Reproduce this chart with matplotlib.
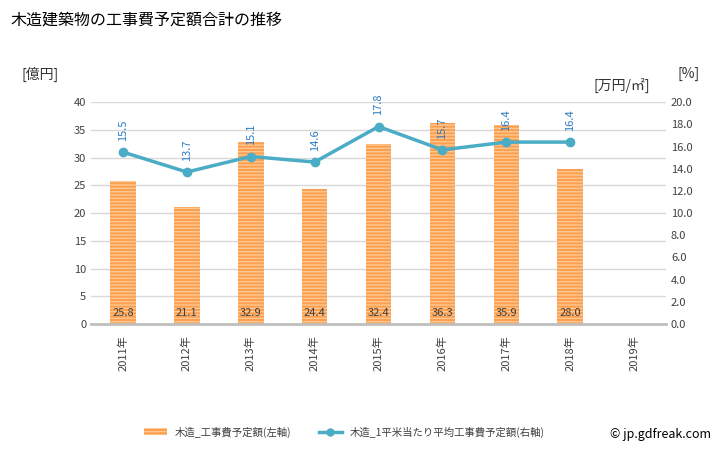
import matplotlib.pyplot as plt
import numpy as np

plt.rcParams['font.family'] = ['Noto Sans CJK JP', 'DejaVu Sans']

years = ["2011年", "2012年", "2013年", "2014年", "2015年", "2016年", "2017年", "2018年", "2019年"]
cost = [25.8, 21.1, 32.9, 24.4, 32.4, 36.3, 35.9, 28.0]
per_m2 = [15.5, 13.7, 15.1, 14.6, 17.8, 15.7, 16.4, 16.4]

fig = plt.figure(figsize=(7.28, 4.5), dpi=100)
ax = fig.add_axes([0.125, 0.28, 0.79, 0.493])
ax2 = ax.twinx()

x = np.arange(len(years))
xb = x[:len(cost)]
ax.bar(xb, cost, width=0.4, color="#fb9f50", edgecolor="#fdc890",
       hatch="-----", linewidth=0, zorder=2)
for xi, v in zip(xb, cost):
    ax.text(xi, 1.0, f"{v:.1f}", ha="center", va="bottom", fontsize=8,
            color="#404040", zorder=3)

ax.set_xlim(-0.5, len(years) - 0.5)
ax.set_ylim(0, 40)
ax.set_yticks(np.arange(0, 41, 5))
ax.set_xticks(x)
ax.set_xticklabels(years, rotation=90, fontsize=8, color="#404040")
ax.tick_params(axis="y", labelsize=8, colors="#404040", length=0)
ax.tick_params(axis="x", length=0, pad=8)
ax.grid(axis="y", color="#d9d9d9", linewidth=1, zorder=0)
ax.set_axisbelow(True)
for s in ["top", "right", "left"]:
    ax.spines[s].set_visible(False)
ax.spines["bottom"].set_color("#bfbfbf")
ax.spines["bottom"].set_linewidth(2)

xl = x[:len(per_m2)]
ax2.plot(xl, per_m2, color="#4bacc6", linewidth=2.5, marker="o",
         markersize=6, zorder=4)
for xi, v in zip(xl, per_m2):
    ax2.text(xi, v + 1.0, f"{v:.1f}", ha="center", va="bottom", rotation=90,
             fontsize=8, color="#2e7bc0")
ax2.set_ylim(0, 20)
ax2.set_yticks(np.arange(0, 21, 2))
ax2.set_yticklabels([f"{t:.1f}" for t in np.arange(0, 21, 2)])
ax2.tick_params(axis="y", labelsize=8, colors="#404040", length=0)
for s in ["top", "right", "left", "bottom"]:
    ax2.spines[s].set_visible(False)

fig.text(0.015, 0.955, "木造建築物の工事費予定額合計の推移", fontsize=11.5, va="center")
fig.text(0.03, 0.835, "[億円]", fontsize=10, va="center", color="#333333")
fig.text(0.815, 0.81, "[万円/㎡]", fontsize=10, va="center", color="#333333")
fig.text(0.93, 0.835, "[%]", fontsize=10, va="center", color="#333333")

h1 = plt.Rectangle((0, 0), 1, 1, facecolor="#fb9f50", edgecolor="#fdc890",
                   hatch="-----", linewidth=0)
h2, = ax2.plot([], [], color="#4bacc6", linewidth=2.5, marker="o", markersize=5)
fig.legend([h1, h2], ["木造_工事費予定額(左軸)", "木造_1平米当たり平均工事費予定額(右軸)"],
           loc="center", bbox_to_anchor=(0.473, 0.04), ncol=2, frameon=False,
           fontsize=7.5, handlelength=2.2, columnspacing=2.6,
           labelcolor="#404040")
fig.text(0.977, 0.035, "© jp.gdfreak.com", fontsize=9, ha="right", va="center")

fig.savefig("out.png", dpi=100)
